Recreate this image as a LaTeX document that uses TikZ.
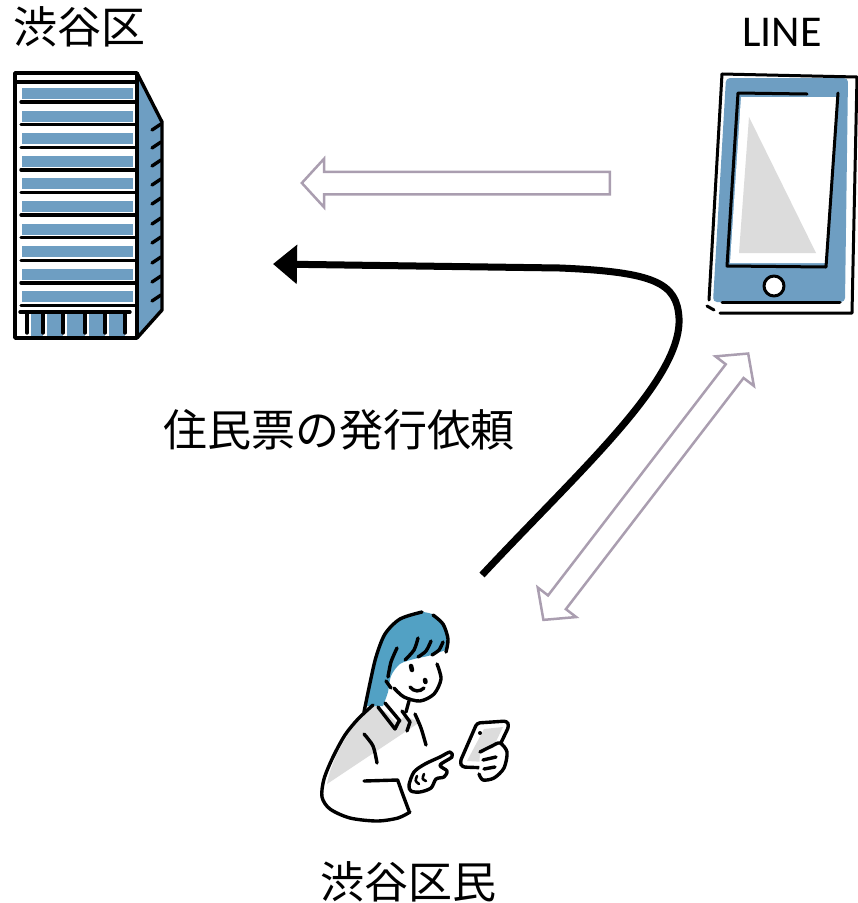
\documentclass[tikz,border=0pt]{standalone}
\usepackage{fontspec}
\newfontfamily\jpfont{Noto Sans CJK JP}
\newfontfamily\latinfont{Carlito}
\usetikzlibrary{arrows.meta,shapes.arrows}

\definecolor{wardblue}{RGB}{110,158,194}
\definecolor{hairblue}{RGB}{82,161,196}
\definecolor{palegray}{RGB}{220,220,220}
\definecolor{flowgray}{RGB}{170,158,176}

\tikzset{
  caption/.style={font=\jpfont\fontsize{44}{50}\selectfont, inner sep=0pt},
  ink/.style={line width=3.4pt, line cap=round, line join=round},
  flow/.style={draw=flowgray, line width=2.5pt, fill=white, inner xsep=0pt, inner ysep=10pt},
}

\begin{document}
\begin{tikzpicture}[x=1pt,y=-1pt]
	\useasboundingbox (0,0) rectangle (858,903);

	% labels
	\node[caption] (ward) at (79,27) {渋谷区};
	\node[caption, font=\latinfont\fontsize{44}{50}\selectfont] (app) at (782,32) {LINE};
	\node[caption] (req) at (339,430) {住民票の発行依頼};
	\node[caption] (citizen) at (408,882) {渋谷区民};

	% ward office building
	\fill[wardblue] (137,73) -- (162,122) -- (162,310) -- (137,338) -- cycle;
	\draw[ink] (137,73) -- (162,122) -- (162,310) -- (137,338);
	\foreach \y in {127,145,163,182,201,221,240,260,279,298}
		\draw[ink] (152,\y+3) -- (161,\y-3);
	\draw[ink] (15,82) -- (137,82);
	\foreach \i in {0,...,9} {
		\fill[wardblue] (22,{88+22.6*\i}) rectangle (133,{99+22.6*\i});
		\draw[ink] (21,{102+22.6*\i}) -- (136,{102+22.6*\i});
	}
	\draw[ink] (20,312) -- (130,312);
	\foreach \a/\b in {27/43,43/63,63/85,85/105,105/125}
		\fill[wardblue] (\a+4,314) rectangle (\b,338);
	\foreach \x in {27,43,63,85,105,125}
		\draw[ink] (\x,313) -- (\x,333);
	\draw[ink] (15,73) rectangle (137,338);

	% smartphone
	\fill[wardblue, rounded corners=4pt] (726,78) -- (848,78) -- (845,302) -- (713,302) -- cycle;
	\draw[ink, line width=3pt] (722,74) -- (857,77) -- (852,313) -- (720,313);
	\draw[ink, line width=3pt] (722,74) -- (709,300);
	\draw[ink, line width=3pt] (707,306) -- (714,310);
	\draw[ink, line width=3pt] (722,302) -- (840,302);
	\fill[white] (741,97) -- (837,97) -- (826,263) -- (730,263) -- cycle;
	\fill[palegray] (749,117) -- (739,253) -- (816,253) -- cycle;
	\draw[ink, line width=3pt] (807,94) -- (738,93) -- (727,266) -- (826,267) -- (838,93);
	\filldraw[ink, line width=3pt, fill=white] (774,286) circle (10);

	% arrows
	\node[flow, single arrow, shape border rotate=180, minimum height=308pt,
		single arrow head extend=13pt, single arrow tip angle=95] (notice) at (461,183) {};
	\node[flow, double arrow, rotate=52.45, minimum height=336pt,
		double arrow head extend=13pt, double arrow tip angle=95] (chat) at (645.8,486.7) {};
	\coordinate (ask) at (482,575);
	\coordinate (office) at (273,264);
	\draw[line width=7pt, -{Triangle[length=24pt,width=38pt]}]
		(ask) .. controls (580,470) and (682,380) .. (679,318)
		.. controls (677,283) and (655,272) .. (560,268) -- (office);

	% resident with phone
	\fill[palegray] (374,704) -- (388,714) -- (398,724) -- (404,716) -- (420,722)
		-- (327,784) .. controls (330,765) and (345,730) .. cycle;
	\fill[hairblue] plot[smooth] coordinates {(366,706) (372,680) (377,657) (386,634)
		(400,619) (421,612) (438,617) (447,632) (446,650)}
		-- plot[smooth] coordinates {(440,652) (428,656) (414,659) (400,664) (391,676)
		(388,692) (383,706)} -- cycle;
	\draw[ink] plot[smooth] coordinates {(364,712) (370,683) (376,657) (385,634) (400,619) (422,612)};
	\draw[ink] plot[smooth] coordinates {(433,615) (443,624) (448,639) (446,652)};
	\draw[ink] plot[smooth] coordinates {(397,648) (391,662) (388,677)};
	\draw[ink] (386,681) -- (391,688);
	\draw[ink] plot[smooth] coordinates {(418,638) (414,650) (405,660)};
	\draw[ink] plot[smooth] coordinates {(431,641) (426,651) (418,657)};
	\draw[ink] plot[smooth] coordinates {(443,642) (439,650) (432,655)};
	\draw[ink] plot[smooth] coordinates {(437,664) (441,679) (434,694) (420,701) (404,697) (394,688)};
	\draw[ink, line width=4.5pt] (411,666) -- (412,670);
	\draw[ink, line width=4.5pt] (425,680) -- (425.5,682);
	\draw[ink] (410,687) .. controls (414,692) and (420,692) .. (424,688);
	\draw[ink] (409,701) -- (406,712);
	\draw[ink] plot[smooth] coordinates {(373,705) (358,719) (345,735) (333,757) (324,779)
		(322,797) (330,809) (350,818) (377,821) (398,818) (410,812)};
	\draw[ink] (378,707) -- (395,729) -- (399,721);
	\draw[ink] (385,703) -- (400,721);
	\draw[ink] (402,711) -- (410,722) -- (407,731);
	\draw[ink] plot[smooth] coordinates {(415,714) (421,728) (426,745)};
	\draw[ink] plot[smooth] coordinates {(364,734) (373,746) (377,763)};
	\draw[ink] (364,781) -- (398,780);
	\draw[ink] plot[smooth] coordinates {(398,781) (403,795) (409,811)};
	\filldraw[ink, fill=white] plot[smooth cycle] coordinates {(409,785) (414,772) (425,764)
		(440,757) (450,752) (452,757) (440,765) (447,771) (444,777) (436,779) (431,788)
		(420,792) (411,791)};
	\draw[ink, line width=2.6pt] (417,776) .. controls (415,781) .. (419,784);
	\draw[ink, line width=2.6pt] (424,774) .. controls (422,779) .. (426,781);
	\filldraw[ink, fill=white, rounded corners=3pt] (477,723) -- (507,721) -- (509,726)
		-- (489,768) -- (462,767) -- (460,762) -- cycle;
	\fill[palegray] (484,729) -- (503,727) -- (486,762) -- (467,761) -- cycle;
	\fill (480,733) circle (2);
	\filldraw[ink, fill=white] plot[smooth] coordinates {(480,752) (492,746) (500,743)
		(507,752) (504,768) (494,778) (483,780) (479,774)};
	\draw[ink] (483,760) -- (496,757);
	\draw[ink] (484,769) -- (495,767);
\end{tikzpicture}
\end{document}
